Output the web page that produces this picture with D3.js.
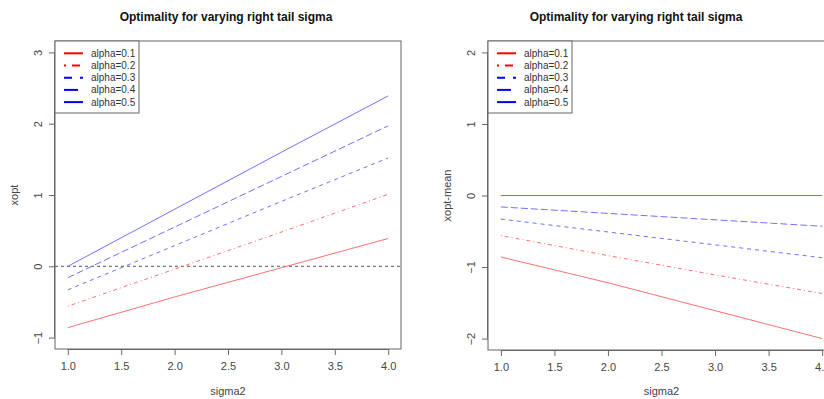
<!DOCTYPE html>
<html>
<head>
<meta charset="utf-8">
<script src="https://cdn.jsdelivr.net/npm/d3@7"></script>
<style>
  body { margin: 0; background: #fff; }
  svg { display: block; font-family: "Liberation Sans", Arial, sans-serif; }
</style>
</head>
<body>
<svg id="chart" width="824" height="399"></svg>
<script>
// values
const sigma2 = [1.0, 2.0, 3.0, 4.0];
const alphas = ['alpha=0.1', 'alpha=0.2', 'alpha=0.3', 'alpha=0.4', 'alpha=0.5'];
const xopt = [
  [-0.86, -0.43, -0.02, 0.39],
  [-0.56, -0.04, 0.48, 1.01],
  [-0.33, 0.29, 0.91, 1.52],
  [-0.16, 0.55, 1.26, 1.97],
  [0.00, 0.80, 1.60, 2.39]
];
const xoptMean = [
  [-0.86, -1.22, -1.61, -2.00],
  [-0.56, -0.84, -1.11, -1.37],
  [-0.33, -0.51, -0.69, -0.87],
  [-0.16, -0.25, -0.34, -0.43],
  [0.00, 0.00, 0.00, 0.00]
];
const xTicks = [1.0, 1.5, 2.0, 2.5, 3.0, 3.5, 4.0];
const yTicksLeft = [-1, 0, 1, 2, 3];
const yTicksRight = [-2, -1, 0, 1, 2];

const colors = ['#ff0000', '#ff0000', '#0000ff', '#0000ff', '#0000ff'];
const lineColors = ['#ff7070', '#ff7070', '#7070ff', '#7070ff', '#7070ff'];
const dashes = [null, '1,3,4,3', '4,4', '7,3', null];
const legendDashes = [null, '2,6,8,6', '8,8', '14,6', null];

const svg = d3.select('#chart');

function drawPanel(opts) {
  const x = d3.scaleLinear().domain([0.88, 4.12]).range([opts.left, opts.right]);
  const y = d3.scaleLinear().domain(opts.ydom).range([opts.bottom, opts.top]);
  const g = svg.append('g');
  const plot = g.append('g');

  if (opts.zeroLine) {
    plot.append('line')
      .attr('x1', opts.left).attr('x2', opts.right)
      .attr('y1', y(0)).attr('y2', y(0))
      .attr('stroke', '#777').attr('stroke-width', 1.2)
      .attr('stroke-dasharray', '3,3');
  }

  const line = d3.line()
    .x((d, i) => x(sigma2[i]))
    .y(d => y(d));

  opts.data.forEach((series, k) => {
    plot.append('path')
      .datum(series)
      .attr('fill', 'none')
      .attr('stroke', lineColors[k])
      .attr('stroke-width', 1)
      .attr('stroke-dasharray', dashes[k])
      .attr('d', line);
  });

  // box
  g.append('rect')
    .attr('x', opts.left).attr('y', opts.top)
    .attr('width', opts.right - opts.left).attr('height', opts.bottom - opts.top)
    .attr('fill', 'none').attr('stroke', '#666').attr('stroke-width', 1);

  // x axis
  const xAxis = d3.axisBottom(x).tickValues(xTicks).tickFormat(d3.format('.1f')).tickSize(6).tickPadding(7);
  const xa = g.append('g')
    .attr('transform', 'translate(0,' + opts.bottom + ')')
    .call(xAxis);
  xa.select('.domain').attr('d', 'M' + x(1) + ',0.5H' + x(4)).attr('stroke', '#666');
  xa.selectAll('.tick line').attr('stroke', '#666');
  xa.selectAll('.tick text').attr('fill', '#444').style('font-size', '11px');

  // y axis
  const yAxis = d3.axisLeft(y).tickValues(opts.yticks).tickFormat(d3.format('d')).tickSize(6).tickPadding(0);
  const ya = g.append('g')
    .attr('transform', 'translate(' + opts.left + ',0)')
    .call(yAxis);
  ya.select('.domain').attr('d', 'M-0.5,' + y(opts.yticks[0]) + 'V' + y(opts.yticks[opts.yticks.length - 1])).attr('stroke', '#666');
  ya.selectAll('.tick line').attr('stroke', '#666');
  ya.selectAll('.tick text')
    .attr('fill', '#444').style('font-size', '11px')
    .attr('x', 0).attr('dy', 0)
    .attr('text-anchor', 'middle')
    .attr('transform', 'translate(-13,0) rotate(-90)');

  // titles and labels
  svg.append('text')
    .attr('x', opts.titleX).attr('y', 21)
    .attr('text-anchor', 'middle')
    .style('font-size', '12px').style('font-weight', 'bold')
    .attr('fill', '#111')
    .text('Optimality for varying right tail sigma');

  svg.append('text')
    .attr('x', (x(1) + x(4)) / 2).attr('y', 395)
    .attr('text-anchor', 'middle')
    .style('font-size', '11px').attr('fill', '#444')
    .text('sigma2');

  svg.append('text')
    .attr('transform', 'translate(' + opts.yLabelX + ',' + ((opts.top + opts.bottom) / 2) + ') rotate(-90)')
    .attr('text-anchor', 'middle')
    .style('font-size', '11px').attr('fill', '#444')
    .text(opts.yLabel);

  // legend
  const lg = g.append('g').attr('transform', 'translate(' + opts.left + ',' + opts.top + ')');
  lg.append('rect')
    .attr('x', 0).attr('y', 0).attr('width', 84).attr('height', 72)
    .attr('fill', '#fff').attr('stroke', '#666').attr('stroke-width', 1);
  alphas.forEach((a, k) => {
    const ly = 12.3 + k * 12.2;
    lg.append('line')
      .attr('x1', 9).attr('x2', 28).attr('y1', ly).attr('y2', ly)
      .attr('stroke', colors[k]).attr('stroke-width', 2)
      .attr('stroke-dasharray', legendDashes[k]);
    lg.append('text')
      .attr('x', 36).attr('y', ly + 3.5)
      .style('font-size', '10px').attr('fill', '#333')
      .text(a);
  });
}

drawPanel({ id: 'L', left: 55, right: 401, top: 41, bottom: 349,
  ydom: [-1.16, 3.16], yticks: yTicksLeft, data: xopt, zeroLine: true,
  yLabel: 'xopt', yLabelX: 18, titleX: 226 });

drawPanel({ id: 'R', left: 488, right: 835, top: 41, bottom: 350,
  ydom: [-2.16, 2.16], yticks: yTicksRight, data: xoptMean, zeroLine: false,
  yLabel: 'xopt-mean', yLabelX: 451, titleX: 636 });
</script>
</body>
</html>
